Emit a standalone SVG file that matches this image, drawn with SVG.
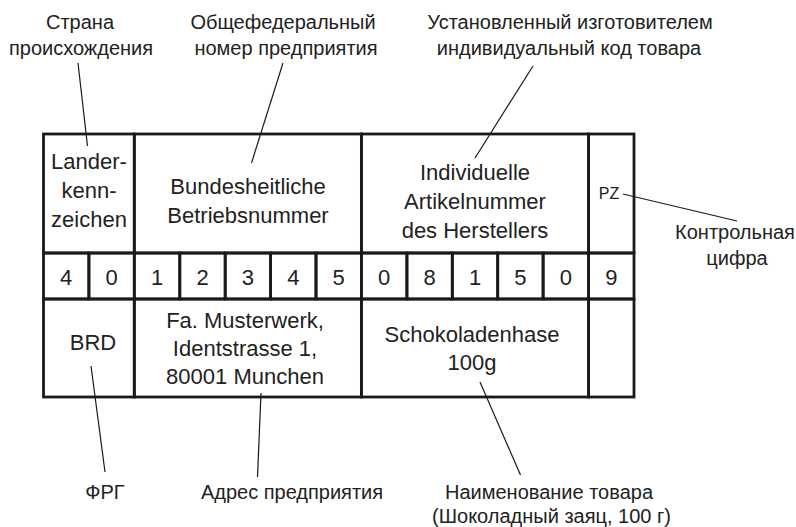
<svg xmlns="http://www.w3.org/2000/svg" width="796" height="527" viewBox="0 0 796 527">
<style>
.cell{fill:none;stroke:#1a1a1a;stroke-width:2.8}
.t{font-family:"Liberation Sans",Arial,sans-serif;font-size:22px;fill:#222;text-anchor:middle}
.l{font-family:"Liberation Sans",Arial,sans-serif;font-size:20px;fill:#222;text-anchor:middle}
.pz{font-family:"Liberation Sans",Arial,sans-serif;font-size:16px;fill:#222;text-anchor:middle}
.lead{stroke:#1a1a1a;stroke-width:1.2;fill:none}
</style>
<rect width="796" height="527" fill="#fff"/>
<g id="connectors">
<line class="lead" x1="78" y1="63" x2="87.5" y2="146"/>
<line class="lead" x1="283" y1="63" x2="251.5" y2="163"/>
<line class="lead" x1="533" y1="66" x2="475" y2="158"/>
<line class="lead" x1="623" y1="194" x2="737" y2="221"/>
<line class="lead" x1="91" y1="366" x2="105" y2="472"/>
<line class="lead" x1="261" y1="393" x2="257.5" y2="477"/>
<line class="lead" x1="480" y1="382" x2="520.5" y2="475"/>
</g>
<g id="cell-country">
<rect class="cell" x="43.5" y="134" width="90.8" height="119"/>
<text class="t" x="89" y="168.5">Lander-</text>
<text class="t" x="89" y="198">kenn-</text>
<text class="t" x="89" y="227">zeichen</text>
</g>
<g id="cell-company">
<rect class="cell" x="134.3" y="134" width="227.1" height="119"/>
<text class="t" x="248" y="194">Bundesheitliche</text>
<text class="t" x="248" y="223">Betriebsnummer</text>
</g>
<g id="cell-article">
<rect class="cell" x="361.4" y="134" width="227.2" height="119"/>
<text class="t" x="475" y="180">Individuelle</text>
<text class="t" x="475" y="209">Artikelnummer</text>
<text class="t" x="475" y="237.5">des Herstellers</text>
</g>
<g id="cell-pz">
<rect class="cell" x="588.6" y="134" width="45.4" height="119"/>
<text class="pz" x="609" y="198.5">PZ</text>
</g>
<g id="digits">
<rect class="cell" x="43.5" y="253" width="45.4" height="46"/>
<rect class="cell" x="88.9" y="253" width="45.4" height="46"/>
<rect class="cell" x="134.3" y="253" width="45.5" height="46"/>
<rect class="cell" x="179.8" y="253" width="45.4" height="46"/>
<rect class="cell" x="225.2" y="253" width="45.4" height="46"/>
<rect class="cell" x="270.6" y="253" width="45.4" height="46"/>
<rect class="cell" x="316" y="253" width="45.4" height="46"/>
<rect class="cell" x="361.4" y="253" width="45.5" height="46"/>
<rect class="cell" x="406.9" y="253" width="45.4" height="46"/>
<rect class="cell" x="452.3" y="253" width="45.4" height="46"/>
<rect class="cell" x="497.7" y="253" width="45.4" height="46"/>
<rect class="cell" x="543.1" y="253" width="45.5" height="46"/>
<rect class="cell" x="588.6" y="253" width="45.4" height="46"/>
<text class="t" x="66.2" y="285">4</text>
<text class="t" x="111.6" y="285">0</text>
<text class="t" x="157.1" y="285">1</text>
<text class="t" x="202.5" y="285">2</text>
<text class="t" x="247.9" y="285">3</text>
<text class="t" x="293.3" y="285">4</text>
<text class="t" x="338.7" y="285">5</text>
<text class="t" x="384.2" y="285">0</text>
<text class="t" x="429.6" y="285">8</text>
<text class="t" x="475" y="285">1</text>
<text class="t" x="520.4" y="285">5</text>
<text class="t" x="565.8" y="285">0</text>
<text class="t" x="611.3" y="285">9</text>
</g>
<g id="cell-brd">
<rect class="cell" x="43.5" y="299" width="90.8" height="98"/>
<text class="t" x="93" y="350">BRD</text>
</g>
<g id="cell-address">
<rect class="cell" x="134.3" y="299" width="227.1" height="98"/>
<text class="t" x="245" y="327.5">Fa. Musterwerk,</text>
<text class="t" x="245" y="355.5">Identstrasse 1,</text>
<text class="t" x="245" y="384">80001 Munchen</text>
</g>
<g id="cell-product">
<rect class="cell" x="361.4" y="299" width="227.2" height="98"/>
<text class="t" x="472" y="342">Schokoladenhase</text>
<text class="t" x="472" y="370">100g</text>
</g>
<g id="cell-empty">
<rect class="cell" x="588.6" y="299" width="45.4" height="98"/>
</g>
<g id="label-country">
<text class="l" x="80" y="29">Страна</text>
<text class="l" x="81" y="55">происхождения</text>
</g>
<g id="label-company">
<text class="l" x="283" y="29">Общефедеральный</text>
<text class="l" x="286" y="55">номер предприятия</text>
</g>
<g id="label-article">
<text class="l" x="570" y="29">Установленный изготовителем</text>
<text class="l" x="569" y="55">индивидуальный код товара</text>
</g>
<g id="label-check">
<text class="l" x="735" y="239">Контрольная</text>
<text class="l" x="737" y="265">цифра</text>
</g>
<g id="label-frg">
<text class="l" x="105" y="498.5">ФРГ</text>
</g>
<g id="label-address">
<text class="l" x="292" y="498.5">Адрес предприятия</text>
</g>
<g id="label-product">
<text class="l" x="549" y="498.5">Наименование товара</text>
<text class="l" x="551.5" y="523">(Шоколадный заяц, 100 г)</text>
</g>
</svg>
